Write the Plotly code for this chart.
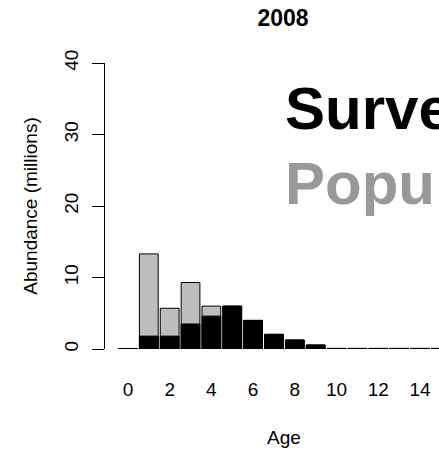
import plotly.graph_objects as go

# Abundance at age (millions), 2008
ages = list(range(16))
population = [0.0, 13.3, 5.7, 9.3, 6.0, 6.0, 4.0, 2.05, 1.26, 0.56, 0.08, 0.08, 0.08, 0.08, 0.08, 0.08]
survey = [0.08, 1.8, 1.8, 3.5, 4.6, 6.0, 4.0, 2.05, 1.26, 0.56, 0.08, 0.08, 0.08, 0.08, 0.08, 0.08]
x_ticks = [0, 2, 4, 6, 8, 10, 12, 14]
y_ticks = [0, 10, 20, 30, 40]

font = "Liberation Sans, Arial, sans-serif"

fig = go.Figure()

# population drawn first (grey), survey on top (black)
fig.add_trace(go.Bar(x=ages, y=population, width=0.9, name="Population",
                     marker=dict(color="#bebebe", line=dict(color="black", width=1)),
                     cliponaxis=False))
fig.add_trace(go.Bar(x=ages, y=survey, width=0.9, name="Survey",
                     marker=dict(color="black", line=dict(color="black", width=1)),
                     cliponaxis=False))

# big labels, running off the right edge like the original
fig.add_annotation(text="<b>Survey</b>", x=7.43, y=33.6, xref="x", yref="y",
                   xanchor="left", yanchor="middle", showarrow=False,
                   font=dict(family=font, size=60, color="black"))
fig.add_annotation(text="<b>Population</b>", x=7.43, y=23.1, xref="x", yref="y",
                   xanchor="left", yanchor="middle", showarrow=False,
                   font=dict(family=font, size=60, color="#999999"))
fig.add_annotation(text="Age", x=7.48, y=-0.308, xref="x", yref="paper",
                   xanchor="center", yanchor="middle", showarrow=False,
                   font=dict(family=font, size=19, color="black"))

fig.update_layout(
    width=439, height=449,
    margin=dict(l=105, r=0, t=63, b=100),
    barmode="overlay",
    showlegend=False,
    plot_bgcolor="white", paper_bgcolor="white",
    font=dict(family=font, size=19, color="black"),
    title=dict(text="<b>2008</b>", x=283 / 439, xanchor="center",
               y=1 - 18 / 449, yanchor="middle", xref="container", yref="container",
               font=dict(family=font, size=23, color="black")),
    xaxis=dict(range=[-1.1, 14.91], tickvals=x_ticks, showline=False, showgrid=False,
               zeroline=False, ticks="", ticklabelstandoff=27,
               tickfont=dict(family=font, size=19)),
    yaxis=dict(range=[0, 40], tickvals=y_ticks, showline=True, linecolor="black",
               linewidth=1, ticks="outside", ticklen=12, tickcolor="black",
               showgrid=False, zeroline=False, tickangle=-90, ticklabelstandoff=6,
               tickfont=dict(family=font, size=19),
               title=dict(text="Abundance (millions)", standoff=18,
                          font=dict(family=font, size=19))),
)

fig.write_html("out.html", config={"displayModeBar": False},
               post_script="document.body.style.margin='0';document.body.style.overflow='hidden';")
